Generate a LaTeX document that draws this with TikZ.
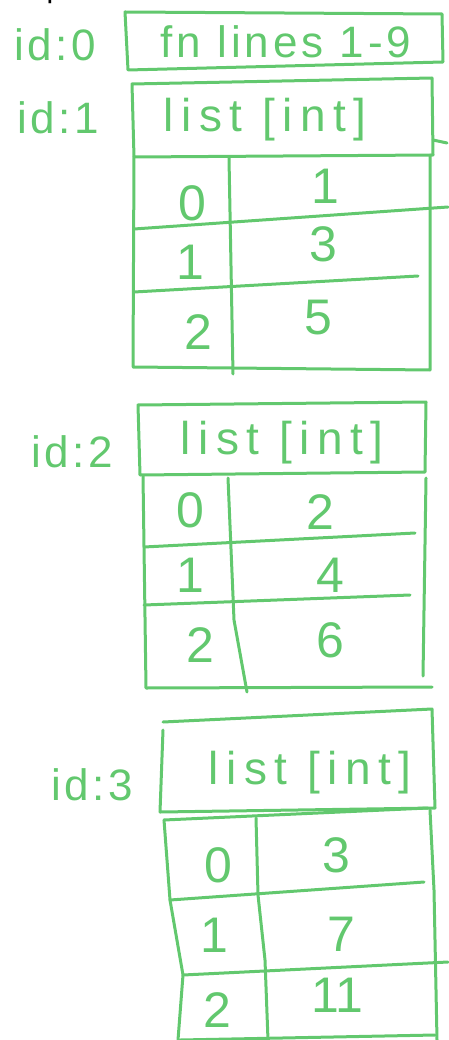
\documentclass[tikz,border=0pt]{standalone}
\usepackage{fontspec}
\setmainfont{Liberation Sans}
\definecolor{hand}{RGB}{98,200,110}
\tikzset{
  ink/.style={draw=hand, line width=3pt, line cap=round, line join=round},
  lbl/.style={text=hand, inner sep=0pt, font=\fontsize{44}{48}\selectfont\addfontfeature{LetterSpace=8}},
  ttl/.style={text=hand, inner sep=0pt, font=\fontsize{46}{50}\selectfont\addfontfeature{LetterSpace=16}},
  fnttl/.style={text=hand, inner sep=0pt, font=\fontsize{44}{48}\selectfont\addfontfeature{LetterSpace=9}},
  cell/.style={text=hand, inner sep=0pt, font=\fontsize{50}{54}\selectfont}
}
\begin{document}
\begin{tikzpicture}[x=1pt,y=-1pt]
\useasboundingbox (0,0) rectangle (448,1040);
% stray black glyph at the top edge
\node[inner sep=0pt, font=\fontsize{30}{30}\selectfont\rmfamily, anchor=base] (stray) at (55,-2) {p};
% ---- id:0
\node[lbl] (id0) at (55,45) {id:0};
\draw[ink] (125,12) -- (442,14) -- (443,62) -- (128,70) -- cycle;
\node[fnttl] (fn) at (286,42) {fn lines 1-9};
% ---- id:1
\node[lbl] (id1) at (58,118) {id:1};
\draw[ink] (132,84) -- (432,78) -- (433,155) -- (134,157) -- cycle;
\draw[ink] (433,140) -- (447,143);
\node[ttl] (t1) at (265,120) {list [int]};
\draw[ink] (134,157) -- (133,367) -- (430,370) -- (430,155);
\draw[ink] (229,158) -- (233,374);
\draw[ink] (134,229) -- (448,207);
\draw[ink] (134,292) -- (418,276);
\node[cell] (a00) at (192,203) {0};
\node[cell] (a01) at (325,186) {1};
\node[cell] (a10) at (190,262) {1};
\node[cell] (a11) at (323,244) {3};
\node[cell] (a20) at (198,332) {2};
\node[cell] (a21) at (318,318) {5};
% ---- id:2
\node[lbl] (id2) at (72,452) {id:2};
\draw[ink] (138,405) -- (426,402) -- (425,472) -- (140,475) -- cycle;
\node[ttl] (t2) at (282,443) {list [int]};
\draw[ink] (143,476) -- (146,688) -- (432,687);
\draw[ink] (426,478) -- (423,676);
\draw[ink] (228,478) -- (234,620) -- (247,692);
\draw[ink] (144,547) -- (415,533);
\draw[ink] (144,605) -- (410,595);
\node[cell] (b00) at (190,510) {0};
\node[cell] (b01) at (320,512) {2};
\node[cell] (b10) at (190,575) {1};
\node[cell] (b11) at (330,575) {4};
\node[cell] (b20) at (200,645) {2};
\node[cell] (b21) at (330,640) {6};
% ---- id:3
\node[lbl] (id3) at (92,785) {id:3};
\draw[ink] (163,722) -- (432,709) -- (435,808) -- (160,812);
\draw[ink] (163,730) -- (160,812);
\node[ttl] (t3) at (310,773) {list [int]};
\draw[ink] (164,820) -- (428,808);
\draw[ink] (164,820) -- (170,900) -- (183,975) -- (178,1040);
\draw[ink] (430,810) -- (434,890) -- (437,1040);
\draw[ink] (256,818) -- (258,895) -- (265,960) -- (268,1040);
\draw[ink] (170,900) -- (424,882);
\draw[ink] (183,975) -- (448,962);
\draw[ink] (180,1040) -- (435,1035);
\node[cell] (c00) at (218,865) {0};
\node[cell] (c01) at (336,855) {3};
\node[cell] (c10) at (214,935) {1};
\node[cell] (c11) at (341,934) {7};
\node[cell] (c20) at (217,1010) {2};
\node[cell] (c21) at (337,995) {11};
\end{tikzpicture}
\end{document}
